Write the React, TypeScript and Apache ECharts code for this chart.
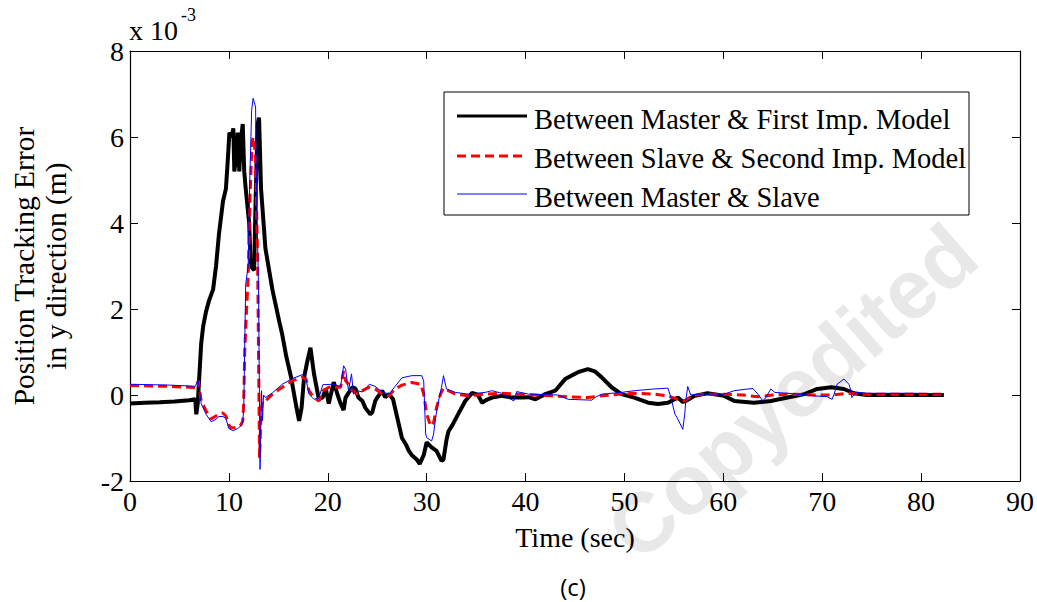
import React, { useEffect, useRef } from "react";
import * as echarts from "echarts";

// Values in units of 1e-3 m, time in seconds
const seriesNames = [
  "Between Master & First Imp. Model",
  "Between Slave & Second Imp. Model",
  "Between Master & Slave",
];

const xTickValues = [0, 10, 20, 30, 40, 50, 60, 70, 80, 90];
const yTickValues = [-2, 0, 2, 4, 6, 8];

const masterFirstModel: [number, number][] = [
  [0, -0.2], [1.5, -0.18], [3, -0.17], [4.5, -0.15], [6.0, -0.12], [6.6, -0.1],
  [6.7, -0.45], [6.85, -0.2], [7.0, 0.4], [7.2, 1.2], [7.4, 1.6], [7.7, 1.95],
  [8.0, 2.2], [8.4, 2.45], [8.7, 3.0], [9.0, 3.75], [9.4, 4.5], [9.7, 4.8],
  [9.9, 5.5], [10.05, 6.1], [10.3, 6.0], [10.45, 6.2], [10.55, 5.2], [10.75, 5.6],
  [10.9, 6.1], [11.05, 5.2], [11.2, 5.9], [11.4, 6.3], [11.55, 5.2], [11.7, 4.8],
  [12.05, 4.0], [12.2, 3.0], [12.55, 2.9], [12.7, 4.5], [12.9, 6.3], [13.05, 6.45],
  [13.25, 4.8], [13.7, 3.4], [14.4, 2.45], [15.1, 1.7], [15.4, 1.4], [15.8, 0.9],
  [16.3, 0.4], [16.8, -0.25], [17.1, -0.6], [17.35, -0.3], [17.6, 0.4], [17.9, 0.75],
  [18.25, 1.1], [18.6, 0.5], [19.1, -0.1], [19.5, -0.05], [19.8, 0.15], [20.1, -0.2],
  [20.6, 0.3], [21.0, 0.0], [21.3, -0.2], [21.6, -0.35], [21.8, -0.06], [22.1, 0.05],
  [22.5, 0.18], [22.8, 0.15], [23.1, -0.06], [23.5, -0.14], [23.8, -0.3], [24.3, -0.45],
  [24.5, -0.4], [24.8, -0.14], [25.0, -0.06], [25.5, 0.1], [25.8, -0.05], [26.2, 0.02],
  [26.6, -0.1], [27.0, -0.5], [27.5, -1.0], [27.9, -1.15], [28.2, -1.3], [28.5, -1.4],
  [29.0, -1.5], [29.3, -1.6], [29.7, -1.4], [30.0, -1.1], [30.5, -1.22], [31.0, -1.3],
  [31.5, -1.53], [31.7, -1.5], [32.0, -1.05], [32.2, -0.85], [32.6, -0.7], [33.2, -0.44],
  [33.9, -0.14], [34.6, 0.05], [35.2, 0.0], [35.6, -0.18], [36.0, -0.12], [36.6, -0.06],
  [37.6, -0.02], [38.6, -0.06], [39.6, -0.06], [40.3, -0.05], [41.0, -0.1], [42.0, 0.02],
  [43.0, 0.1], [44.0, 0.37], [45.3, 0.53], [46.3, 0.6], [47.0, 0.55], [47.7, 0.41],
  [48.7, 0.18], [49.7, 0.02], [51.0, -0.06], [52.4, -0.18], [53.4, -0.21], [54.4, -0.18],
  [55.4, -0.06], [55.9, -0.16], [56.2, -0.14], [57.1, -0.02], [58.4, 0.04], [60.1, -0.02],
  [61.1, -0.14], [63.1, -0.18], [64.8, -0.14], [66.5, -0.06], [68.2, 0.02], [69.5, 0.14],
  [70.9, 0.18], [72.2, 0.14], [73.2, 0.04], [74.5, 0.0], [76.6, 0.0], [79.0, 0.0],
  [82.3, 0.0],
];

const slaveSecondModel: [number, number][] = [
  [0, 0.22], [2, 0.21], [4, 0.2], [6, 0.18], [6.6, 0.17], [6.9, 0.33], [7.2, -0.14],
  [7.7, -0.37], [8.2, -0.56], [8.6, -0.5], [9.0, -0.44], [9.4, -0.42], [9.7, -0.49],
  [10.0, -0.7], [10.2, -0.76], [10.9, -0.76], [11.2, -0.7], [11.4, -0.6], [11.5, -0.2],
  [11.6, 1.0], [11.75, 1.8], [11.95, 2.74], [12.15, 4.7], [12.35, 5.9], [12.5, 6.0],
  [12.7, 5.5], [12.9, 3.2], [13.0, 0.9], [13.1, -1.46], [13.25, -0.4], [13.4, -0.14],
  [13.7, -0.14], [14.4, 0.02], [15.4, 0.18], [16.4, 0.33], [17.4, 0.41], [17.8, 0.37],
  [18.1, 0.1], [18.6, -0.06], [19.1, -0.14], [19.5, 0.1], [20.1, 0.18], [20.8, 0.18],
  [21.3, 0.18], [21.6, 0.56], [21.8, 0.33], [22.1, 0.25], [22.5, 0.1], [23.0, 0.02],
  [23.5, 0.1], [24.2, 0.18], [24.8, 0.14], [25.5, 0.02], [26.2, -0.02], [26.8, 0.14],
  [27.5, 0.23], [28.5, 0.29], [29.4, 0.25], [29.7, 0.02], [30.0, -0.44], [30.4, -0.72],
  [30.7, -0.64], [31.0, -0.29], [31.4, 0.02], [31.7, 0.16], [32.2, 0.1], [32.9, 0.02],
  [34.2, -0.02], [35.9, 0.02], [37.6, 0.04], [39.3, 0.02], [41.0, 0.0], [42.6, -0.02],
  [44.3, -0.04], [46.3, -0.06], [47.7, -0.02], [49.4, 0.02], [51.0, 0.04], [53.0, 0.02],
  [54.4, -0.02], [55.4, -0.1], [56.1, -0.14], [56.8, -0.02], [58.0, 0.02], [60.0, 0.02],
  [62.0, 0.0], [63.5, -0.04], [65.0, 0.0], [67.0, 0.02], [69.0, 0.0], [71.0, 0.0],
  [72.5, 0.04], [74.0, 0.02], [76.0, 0.02], [78.0, 0.02], [80.0, 0.02], [82.3, 0.02],
];

const masterSlave: [number, number][] = [
  [0, 0.25], [2, 0.24], [4, 0.23], [6, 0.21], [6.6, 0.2], [6.9, 0.35], [7.2, -0.2],
  [7.7, -0.45], [8.2, -0.62], [8.6, -0.58], [9.0, -0.5], [9.4, -0.5], [9.7, -0.55],
  [10.0, -0.78], [10.4, -0.83], [10.9, -0.78], [11.2, -0.72], [11.4, -0.65], [11.5, -0.3],
  [11.7, 2.58], [11.95, 3.0], [12.1, 4.84], [12.3, 6.62], [12.45, 6.9], [12.7, 6.7],
  [12.8, 4.76], [13.0, 2.43], [13.15, -1.73], [13.3, 0.1], [13.4, -0.6], [13.5, 0.0],
  [13.7, -0.06], [14.4, 0.05], [15.4, 0.25], [16.4, 0.38], [17.4, 0.47], [17.7, 0.49],
  [18.1, 0.02], [18.6, -0.1], [19.1, -0.07], [19.5, 0.24], [20.5, 0.25], [21.3, 0.2],
  [21.6, 0.68], [21.8, 0.6], [22.1, 0.1], [22.4, 0.49], [22.6, 0.02], [23.0, 0.1],
  [23.5, 0.07], [24.2, 0.25], [24.8, 0.2], [25.5, 0.07], [26.2, 0.02], [26.8, 0.2],
  [27.5, 0.4], [28.5, 0.45], [29.5, 0.45], [29.7, 0.33], [29.9, -0.91], [30.0, -0.99],
  [30.5, -1.07], [30.7, -0.91], [30.9, -0.53], [31.2, -0.14], [31.5, 0.18], [31.7, 0.45],
  [32.0, 0.14], [32.9, 0.06], [34.2, 0.02], [35.9, 0.06], [36.6, 0.1], [37.6, 0.04],
  [38.8, -0.14], [39.1, 0.08], [40.3, 0.02], [41.6, 0.01], [43.3, 0.0], [44.3, -0.1],
  [46.7, -0.12], [47.0, -0.06], [47.7, 0.02], [49.7, 0.06], [51.0, 0.1], [53.0, 0.14],
  [54.4, 0.16], [54.7, -0.06], [55.1, -0.44], [55.4, -0.56], [55.9, -0.8], [56.1, -0.44],
  [56.2, -0.14], [56.4, 0.2], [56.7, 0.0], [57.7, 0.02], [60.1, 0.02], [61.1, 0.1],
  [62.5, 0.14], [63.0, 0.15], [63.5, 0.02], [64.0, -0.14], [64.3, -0.06], [64.8, 0.14],
  [65.2, 0.06], [66.5, 0.04], [67.5, 0.02], [69.2, -0.02], [70.5, -0.04], [71.0, -0.1],
  [71.2, 0.02], [71.5, 0.25], [72.2, 0.37], [72.7, 0.25], [72.9, 0.1], [73.0, -0.06],
  [73.4, 0.06], [74.5, 0.04], [79.2, 0.04], [82.3, 0.03],
];

const seriesColors = ["#000000", "#ff0000", "#0000ff"];
const seriesWidths = [4, 3, 1];
const seriesDash: (number[] | "solid")[] = ["solid", [9, 5], "solid"];

const SERIF = "'Liberation Serif', 'Times New Roman', serif";

export default function App() {
  const ref = useRef<HTMLDivElement>(null);
  useEffect(() => {
    if (!ref.current) return;
    const chart = echarts.init(ref.current, null, { renderer: "svg" });
    const xMin = xTickValues[0];
    const xMax = xTickValues[xTickValues.length - 1];
    const yMin = yTickValues[0];
    const yMax = yTickValues[yTickValues.length - 1];
    const axisCommon = {
      axisLine: { show: true, onZero: false, lineStyle: { color: "#000", width: 1.2 } },
      axisTick: { show: true, inside: true, length: 8, lineStyle: { color: "#000", width: 1 } },
      splitLine: { show: false },
    };

    // legend drawn as graphic elements (box, sample lines, labels)
    const legendX = 444;
    const legendY = 92;
    const rowLineY = [116, 156, 194];
    const rowTextY = [119, 158, 197];
    const legendElements: any[] = [
      {
        type: "rect", z: 100, silent: true,
        shape: { x: legendX, y: legendY, width: 525, height: 123 },
        style: { fill: "#fff", stroke: "#000", lineWidth: 1 },
      },
    ];
    seriesNames.forEach((name, i) => {
      legendElements.push({
        type: "line", z: 101, silent: true,
        shape: { x1: 457, y1: rowLineY[i], x2: 527, y2: rowLineY[i] },
        style: {
          stroke: seriesColors[i], lineWidth: i === 2 ? 1 : 3,
          lineDash: seriesDash[i] === "solid" ? null : seriesDash[i],
        },
      });
      legendElements.push({
        type: "text", z: 101, silent: true, x: 534, y: rowTextY[i],
        style: { text: name, fill: "#000", font: `28.5px ${SERIF}`, align: "left", verticalAlign: "middle" },
      });
    });

    chart.setOption({
      animation: false,
      backgroundColor: "#fff",
      grid: { left: 127, right: 17, top: 51, bottom: 121, containLabel: false },
      xAxis: [
        {
          type: "value", min: xMin, max: xMax, interval: 10, position: "bottom",
          ...axisCommon,
          axisLabel: { color: "#000", fontFamily: SERIF, fontSize: 28, margin: 6 },
          name: "Time (sec)", nameLocation: "middle", nameGap: 42,
          nameTextStyle: { color: "#000", fontFamily: SERIF, fontSize: 28 },
        },
        {
          type: "value", min: xMin, max: xMax, interval: 10, position: "top",
          ...axisCommon, axisLabel: { show: false },
        },
      ],
      yAxis: [
        {
          type: "value", min: yMin, max: yMax, interval: 2, position: "left",
          ...axisCommon,
          axisLabel: { color: "#000", fontFamily: SERIF, fontSize: 28, margin: 6 },
          name: "Position Tracking Error\nin y direction (m)", nameLocation: "middle",
          nameRotate: 90, nameGap: 58,
          nameTextStyle: { color: "#000", fontFamily: SERIF, fontSize: 29.5, lineHeight: 32 },
        },
        {
          type: "value", min: yMin, max: yMax, interval: 2, position: "right",
          ...axisCommon, axisLabel: { show: false },
        },
      ],
      graphic: [
        {
          type: "text", x: 792, y: 392, rotation: 0.72, z: -1, silent: true,
          style: {
            text: "Copyedited", fill: "#e8e8e8",
            font: "bold 84px 'Liberation Sans', Arial, sans-serif",
            align: "center", verticalAlign: "middle",
          },
        },
        {
          type: "text", x: 129, y: 30,
          style: { text: "x 10", fill: "#000", font: `28px ${SERIF}`, align: "left", verticalAlign: "middle" },
        },
        {
          type: "text", x: 181, y: 15,
          style: { text: "-3", fill: "#000", font: `18px ${SERIF}`, align: "left", verticalAlign: "middle" },
        },
        {
          type: "text", x: 573, y: 586,
          style: { text: "(c)", fill: "#000", font: "24px 'Open Sans', 'Noto Sans', sans-serif", align: "center", verticalAlign: "middle" },
        },
        ...legendElements,
      ],
      series: seriesNames.map((name, i) => ({
        name, type: "line",
        data: [masterFirstModel, slaveSecondModel, masterSlave][i],
        showSymbol: false, symbol: "none",
        lineStyle: { color: seriesColors[i], width: seriesWidths[i], type: seriesDash[i] },
        itemStyle: { color: seriesColors[i] },
        z: 2 + i,
      })),
    });
    return () => chart.dispose();
  }, []);
  return (
    <div
      ref={ref}
      style={{ position: "fixed", left: 0, top: 0, width: 1037, height: 602, background: "#fff" }}
    />
  );
}
